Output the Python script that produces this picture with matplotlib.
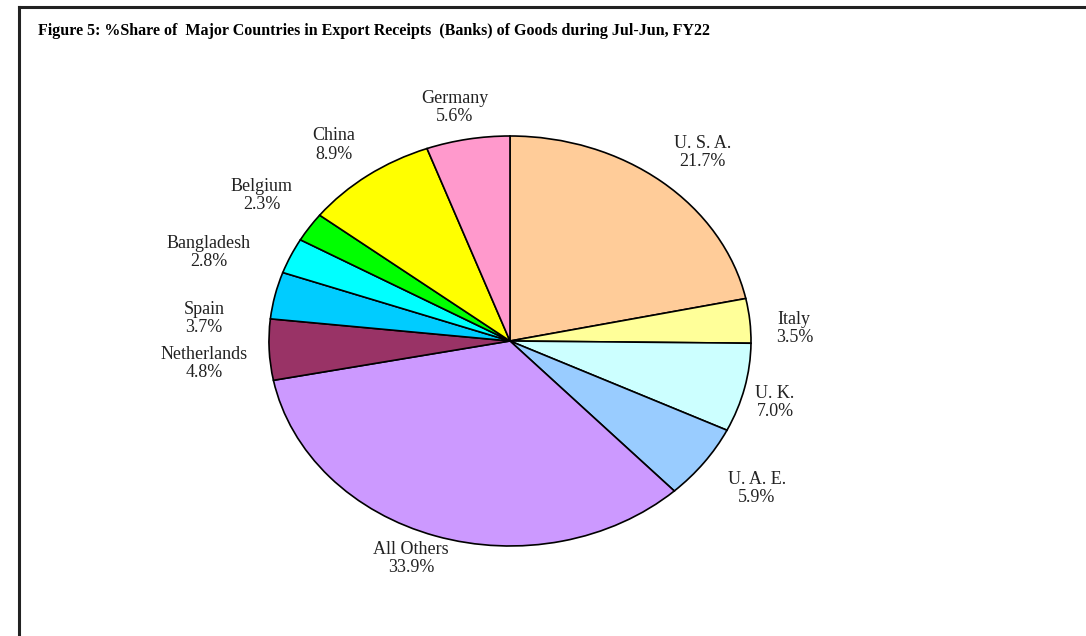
import matplotlib.pyplot as plt
from matplotlib.lines import Line2D

countries = ["U. S. A.", "Italy", "U. K.", "U. A. E.", "All Others", "Netherlands",
             "Spain", "Bangladesh", "Belgium", "China", "Germany"]
shares = [21.7, 3.5, 7.0, 5.9, 33.9, 4.8, 3.7, 2.8, 2.3, 8.9, 5.6]
colors = ["#FFCC99", "#FFFF99", "#CCFFFF", "#99CCFF", "#CC99FF", "#993366",
          "#00CCFF", "#00FFFF", "#00FF00", "#FFFF00", "#FF99CC"]

# label anchor points in pie units (layout only)
label_pos = [(0.80, 0.92), (1.18, 0.06), (1.10, -0.30), (1.025, -0.72), (-0.41, -1.06),
             (-1.27, -0.11), (-1.27, 0.11), (-1.25, 0.43), (-1.03, 0.71), (-0.73, 0.956),
             (-0.23, 1.14)]

plt.rcParams["font.family"] = ["Liberation Serif", "DejaVu Serif"]

fig = plt.figure(figsize=(10.86, 6.36), dpi=100)
# axes sized so the unit pie becomes an ellipse (rx 241 px, ry 205 px)
ax = fig.add_axes([0.1589, 0.0126, 0.6214, 0.9025])

wedges, _ = ax.pie(shares, colors=colors, startangle=90, counterclock=False,
                   wedgeprops=dict(edgecolor="black", linewidth=1.2))
for c, s, (x, y) in zip(countries, shares, label_pos):
    ax.text(x, y, f"{c}\n{s:.1f}%", ha="center", va="center", fontsize=13,
            linespacing=1.08, color="#222222")
ax.set_aspect("auto")
ax.set_xlim(-1.4, 1.4)
ax.set_ylim(-1.4, 1.4)
ax.axis("off")

fig.text(0.035, 0.951, "Figure 5: %Share of  Major Countries in Export Receipts  (Banks) of Goods during Jul-Jun, FY22",
         fontsize=11.5, fontweight="bold", ha="left", va="center")

# frame lines (top and left only)
fig.add_artist(Line2D([19 / 1086, 1], [1 - 7 / 636, 1 - 7 / 636], color="#222222", linewidth=2.2))
fig.add_artist(Line2D([19 / 1086, 19 / 1086], [0, 1 - 7 / 636], color="#222222", linewidth=2.2))

fig.savefig("out.png", dpi=100)
